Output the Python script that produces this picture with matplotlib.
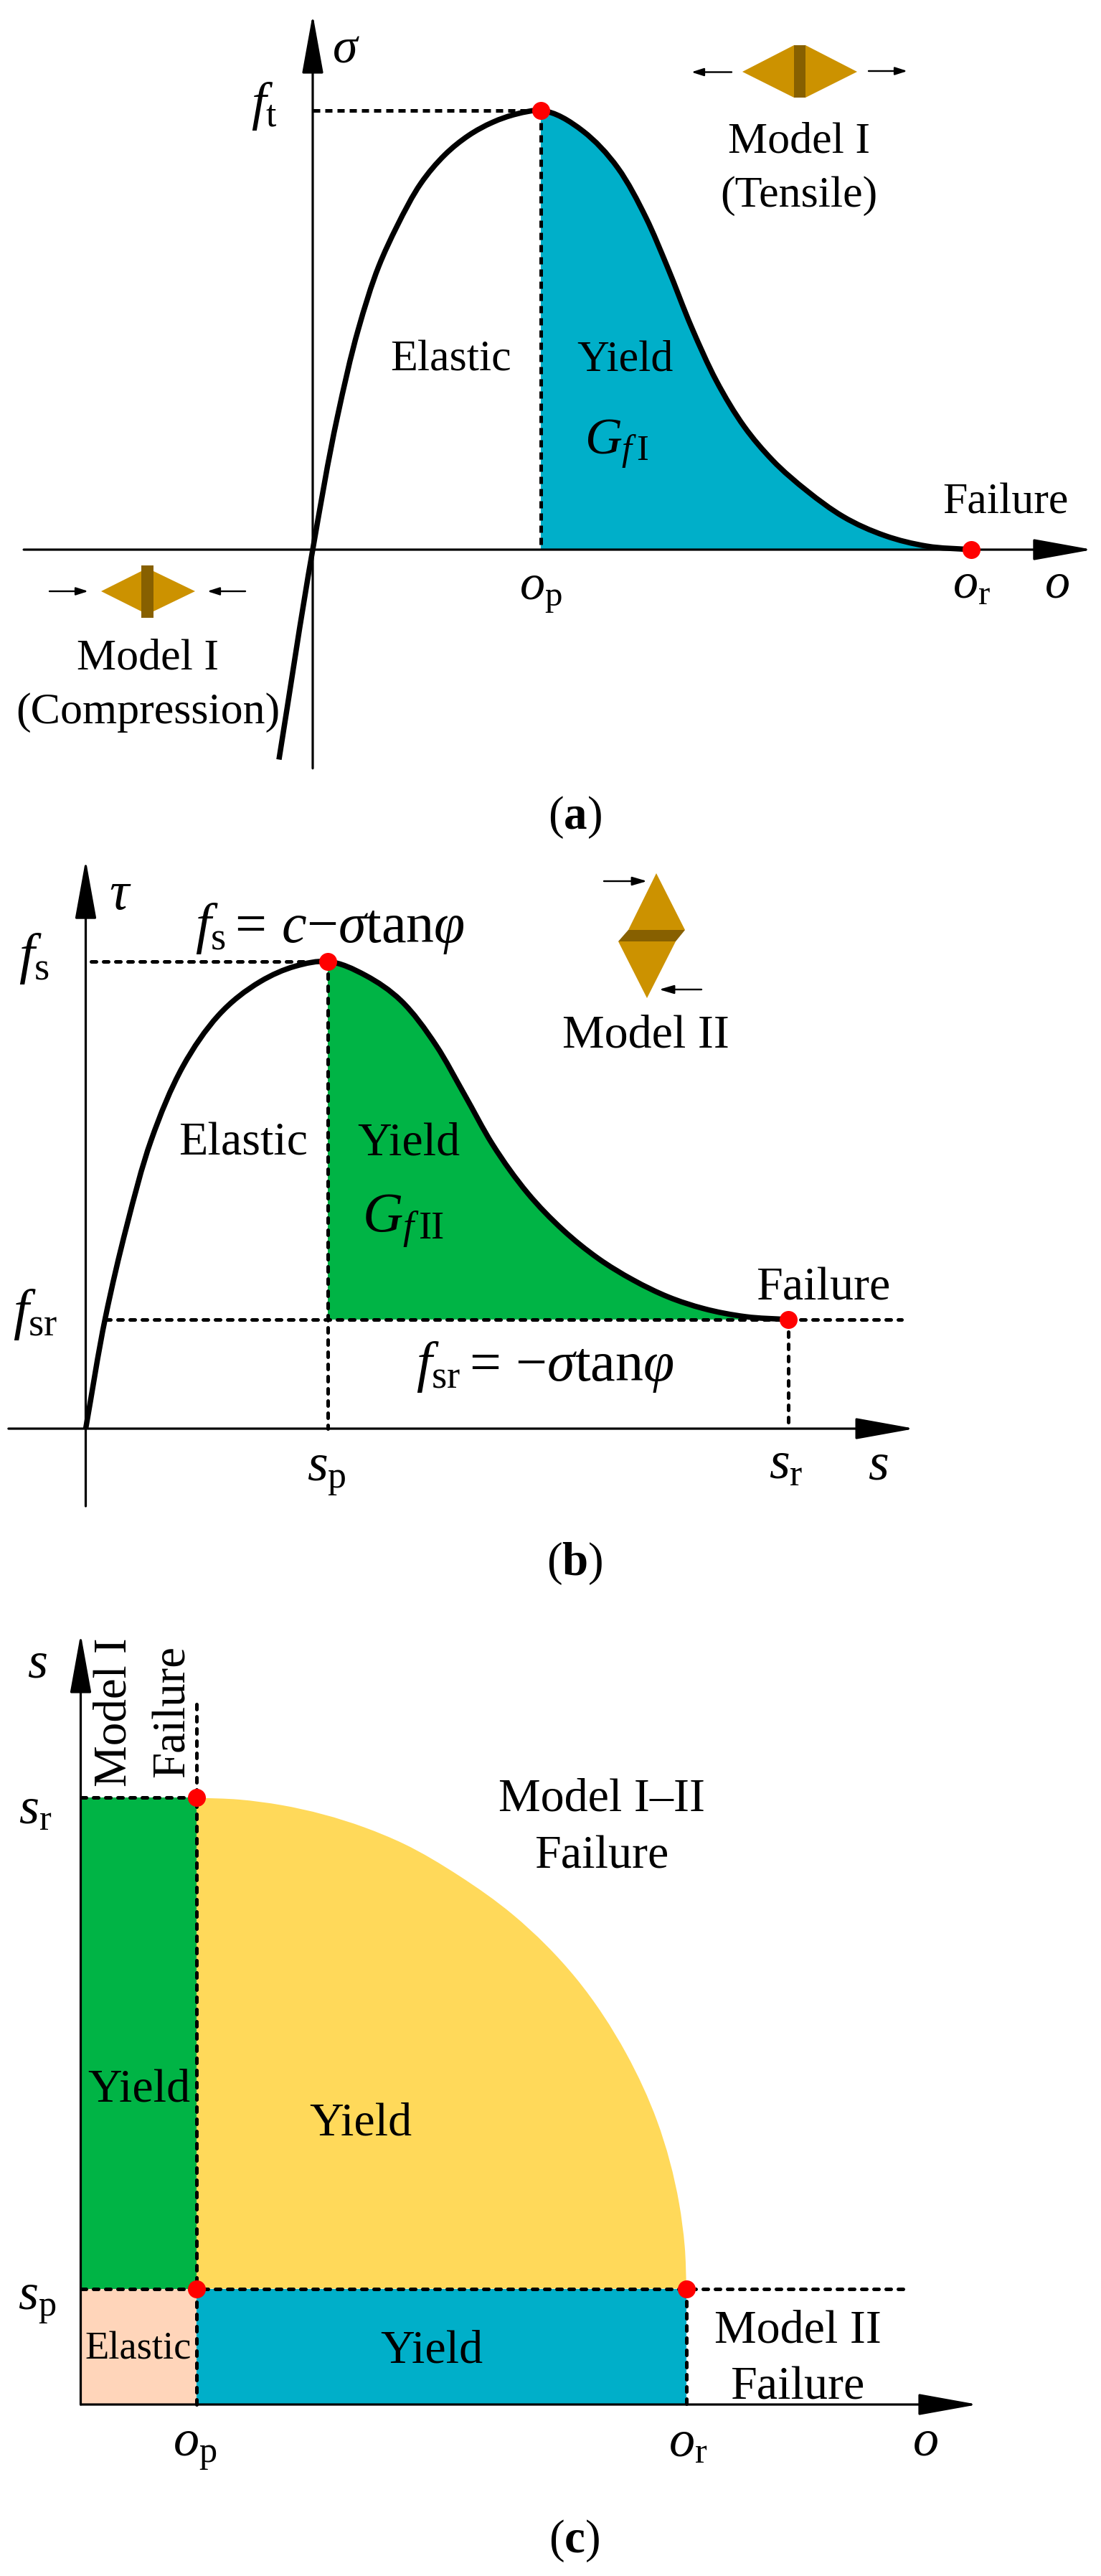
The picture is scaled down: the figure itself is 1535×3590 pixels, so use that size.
import numpy as np
import matplotlib
matplotlib.use("Agg")
import matplotlib.pyplot as plt
from matplotlib.path import Path
from matplotlib.patches import PathPatch, Polygon

W, H = 1535, 3591
PX = 0.72  # points per pixel at dpi 100

TEAL, GREEN, YELLOW, PEACH = "#00AFC9", "#00B445", "#FFD95A", "#FFD5BA"
GOLD, BROWN, RED = "#CC9200", "#876000", "#FF0000"

# panel a: strain / peak strain, stress / tensile strength
tens_x = [-.148, 0, .108, .2, .29, .369, .474, .579, .683, .788, .893, 1, 1.185, 1.338, 1.462, 1.554,
          1.662, 1.769, 1.892, 2.015, 2.169, 2.323, 2.508, 2.692, 2.886]
tens_y = [-.478, 0, .302, .502, .646, .736, .834, .899, .943, .973, .992, 1, .953, .869, .755, .645,
          .505, .385, .28, .204, .133, .076, .032, .008, 0]
# panel b: slip / peak slip, shear / shear strength
shear_x = [0, .081, .169, .27, .401, .547, .721, .866, 1, 1.157, 1.302, 1.448, 1.564,
           1.68, 1.826, 1.971, 2.116, 2.262, 2.407, 2.552, 2.727, 2.902]
shear_y = [0, .237, .433, .617, .775, .884, .957, .99, 1, .97, .9165, .82, .7157,
           .609, .5039, .4256, .3647, .318, .2818, .2571, .2396, .2335]
# panel c: failure envelope between (op, sr) and (or, sp)
env_x = [1, 1.369, 1.734, 2.447, 2.788, 3.266, 3.731, 4.278, 4.711, 4.975, 5.166, 5.214, 5.23]
env_y = [5.236, 5.22, 5.172, 4.981, 4.839, 4.563, 4.227, 3.676, 3.026, 2.449, 1.736, 1.369, 1]

plt.rcParams["font.family"] = ["Liberation Serif", "DejaVu Serif"]
plt.rcParams["mathtext.fontset"] = "custom"
plt.rcParams["mathtext.rm"] = "Liberation Serif"
plt.rcParams["mathtext.it"] = "Liberation Serif:italic"
plt.rcParams["mathtext.bf"] = "Liberation Serif:bold"
plt.rcParams["mathtext.default"] = "it"


def smooth(xs, ys):
    # spline through the read points with chord-weighted tangents, as bezier segments
    p = np.column_stack([xs, ys])
    d = np.hypot(*np.diff(p, axis=0).T)
    s = np.diff(p, axis=0) / d[:, None]
    m = np.vstack([s[0], (s[1:] * d[:-1, None] + s[:-1] * d[1:, None]) / (d[:-1, None] + d[1:, None]), s[-1]])
    verts, codes = [p[0]], [Path.MOVETO]
    for i in range(len(p) - 1):
        verts += [p[i] + m[i] * d[i] / 3, p[i + 1] - m[i + 1] * d[i] / 3, p[i + 1]]
        codes += [Path.CURVE4] * 3
    return verts, codes


def panel(fig, top, bottom, x0, y0, ux, uy):
    ax = fig.add_axes([0, 1 - bottom / H, 1, (bottom - top) / H], zorder=1)
    ax.set_xlim(-x0 / ux, (W - x0) / ux)
    ax.set_ylim((y0 - bottom) / uy, (y0 - top) / uy)
    ax.axis("off")
    return ax


def axis_arrow(ax, start, tip):
    ax.annotate("", xy=tip, xytext=start, zorder=2.5, annotation_clip=False,
                arrowprops=dict(arrowstyle="-|>,head_length=%f,head_width=%f" % (72 * PX, 13 * PX),
                                mutation_scale=1, lw=3.2 * PX, color="k", shrinkA=0, shrinkB=0))


def dashed(ax, xs, ys, lw=5, cap="round", on=7, off=10):
    ax.plot(xs, ys, color="k", lw=lw * PX, ls=(0, (on / lw, off / lw)), dash_capstyle=cap,
            zorder=3, clip_on=False)


def dots(ax, xs, ys):
    ax.plot(xs, ys, "o", color=RED, ms=25 * PX, mew=0, zorder=5, clip_on=False)


def curve(ax, xs, ys):
    ax.add_patch(PathPatch(Path(*smooth(xs, ys)), fc="none", ec="k", lw=7.5 * PX, zorder=2, capstyle="butt"))


def under_curve(ax, xs, ys, base, color):
    v, c = smooth(xs, ys)
    i = 3 * xs.index(1)
    verts = v[i:] + [(xs[-1], base), (1, base), (1, base)]
    codes = [Path.MOVETO] + c[i + 1:] + [Path.LINETO, Path.LINETO, Path.CLOSEPOLY]
    ax.add_patch(PathPatch(Path(verts, codes), fc=color, ec="none", zorder=1))


fig = plt.figure(figsize=(W / 100, H / 100), dpi=100, facecolor="white")

# (a)
a = panel(fig, 0, 1180, 436, 767, 318, 612)
under_curve(a, tens_x, tens_y, 0, TEAL)
curve(a, tens_x, tens_y)
axis_arrow(a, (-1.267, 0), (3.418, 0))
axis_arrow(a, (0, -.498), (0, 1.219))
dashed(a, [0, 1], [1, 1], 5, "butt", 10, 7)
dashed(a, [1, 1], [1, 0], 5, "butt", 10, 7)
dots(a, [1, 2.886], [1, 0])

# (b)
b = panel(fig, 1180, 2230, 119.5, 1992, 337.5, 651)
under_curve(b, shear_x, shear_y, .2335, GREEN)
curve(b, shear_x, shear_y)
axis_arrow(b, (-.319, 0), (3.424, 0))
axis_arrow(b, (0, -.166), (0, 1.218))
dashed(b, [.022, 1], [1, 1])
dashed(b, [.081, 3.37], [.2335, .2335])
dashed(b, [1, 1], [1, 0])
dashed(b, [2.902, 2.902], [.2335, 0])
dots(b, [1, 2.902], [1, .2335])

# (c)
c = panel(fig, 2230, H, 112.5, 3352, 161.5, 161.5)
v, cd = smooth(env_x, env_y)
c.add_patch(PathPatch(Path(v + [(1, 1), (1, 1)], cd + [Path.LINETO, Path.CLOSEPOLY]), fc=YELLOW, ec="none", zorder=1))
c.fill_between([0, 1], 1, env_y[0], color=GREEN, lw=0, zorder=1)
c.fill_between([0, 1], 0, 1, color=PEACH, lw=0, zorder=1)
c.fill_between([1, env_x[-1]], 0, 1, color=TEAL, lw=0, zorder=1)
axis_arrow(c, (0, 0), (7.743, 0))
axis_arrow(c, (0, 0), (0, 6.65))
dashed(c, [0, 1], [env_y[0], env_y[0]])
dashed(c, [1, 1], [0, 6.08])
dashed(c, [0, 7.11], [1, 1])
dashed(c, [env_x[-1], env_x[-1]], [1, 0])
dots(c, [1, 1, env_x[-1]], [env_y[0], 1, 1])

# overlay in pixels for the sketches and all labels
deco = fig.add_axes([0, 0, 1, 1], zorder=2)
deco.set_xlim(0, W)
deco.set_ylim(H, 0)
deco.axis("off")


def label(x, y, s, size=62, **kw):
    # y is the text baseline
    deco.text(x, y, s, fontsize=size * PX, ha="center", va="baseline", rotation_mode="anchor", color="k", **kw)


def small_arrow(x0, y0, x1, y1, hl=14, hw=4.5):
    deco.annotate("", xy=(x1, y1), xytext=(x0, y0),
                  arrowprops=dict(arrowstyle="-|>,head_length=%f,head_width=%f" % (hl * PX, hw * PX),
                                  mutation_scale=1, lw=2.4 * PX, color="k", shrinkA=0, shrinkB=0))


def poly(pts, color):
    deco.add_patch(Polygon(pts, closed=True, fc=color, ec="none"))


poly([(1035, 101), (1107, 64), (1123, 64), (1195, 101), (1123, 137), (1107, 137)], GOLD)
poly([(1107, 64), (1123, 64), (1123, 137), (1107, 137)], BROWN)
small_arrow(1020, 101.5, 964, 101.5)
small_arrow(1211, 100, 1265, 100)
poly([(141, 825), (197, 797), (214, 797), (272, 825), (214, 853), (197, 853)], GOLD)
poly([(197, 789), (214, 789), (214, 862), (197, 862)], BROWN)
small_arrow(69, 825, 123, 825)
small_arrow(342, 825, 289, 825)
poly([(915, 1218), (955, 1297), (876, 1297)], GOLD)
poly([(862, 1313), (942, 1313), (902, 1392)], GOLD)
poly([(876, 1297), (955, 1297), (942, 1313), (862, 1313)], BROWN)
small_arrow(842, 1229, 902, 1229, 17, 5)
small_arrow(978, 1380, 919, 1380, 17, 5)

label(482, 86.5, r"$\sigma$", 70)
label(368, 166, r"$f_{\mathrm{t}}$", 74)
label(628, 516.5, "Elastic")
label(871, 516.5, "Yield")
label(860, 633.5, r"$G_{f\,\mathrm{I}}$", 72)
label(1402, 715.5, "Failure")
label(754, 835.5, r"$o_{\mathrm{p}}$", 70)
label(1354, 833, r"$o_{\mathrm{r}}$", 70)
label(1473, 832.5, r"$o$", 70)
label(1114, 212.5, "Model I")
label(1114, 288, "(Tensile)")
label(206, 932.5, "Model I")
label(206, 1008, "(Compression)")
label(801, 1155.5, r"$(\mathbf{a})$", 65)

label(168, 1267, r"$\tau$", 76)
label(47, 1355, r"$f_{\mathrm{s}}$", 78)
label(49, 1851, r"$f_{\mathrm{sr}}$", 78)
label(460, 1313.5, r"$f_{\mathrm{s}}{=}\,c{-}\sigma\mathrm{tan}\varphi$", 78)
label(339, 1610, "Elastic", 66)
label(570, 1610, "Yield", 66)
label(562, 1716.5, r"$G_{f\,\mathrm{II}}$", 78)
label(1148, 1811.5, "Failure", 66)
label(760, 1924, r"$f_{\mathrm{sr}}{=}\,{-}\sigma\mathrm{tan}\varphi$", 78)
label(900, 1460, "Model II", 66)
label(455, 2064, r"$s_{\mathrm{p}}$", 74)
label(1096, 2061, r"$s_{\mathrm{r}}$", 74)
label(1224, 2062, r"$s$", 74)
label(801, 2195, r"$(\mathbf{b})$", 65)

label(52, 2338, r"$s$", 72)
label(49, 2541.5, r"$s_{\mathrm{r}}$", 72)
label(52, 3219, r"$s_{\mathrm{p}}$", 72)
label(272, 3423, r"$o_{\mathrm{p}}$", 72)
label(959, 3423, r"$o_{\mathrm{r}}$", 72)
label(1290, 3422, r"$o$", 72)
label(839, 2524, "Model I–II", 66)
label(839, 2603.5, "Failure", 66)
label(176, 2386, "Model I", 65, rotation=90)
label(257, 2385, "Failure", 65, rotation=90)
label(194, 2929, "Yield", 66)
label(503, 2976, "Yield", 66)
label(193, 3288, "Elastic", 54.5)
label(602, 3293, "Yield", 66)
label(1112, 3264.5, "Model II", 66)
label(1112, 3344, "Failure", 66)
label(801, 3557, r"$(\mathbf{c})$", 65)

fig.savefig("out.png", dpi=100, facecolor="white")
